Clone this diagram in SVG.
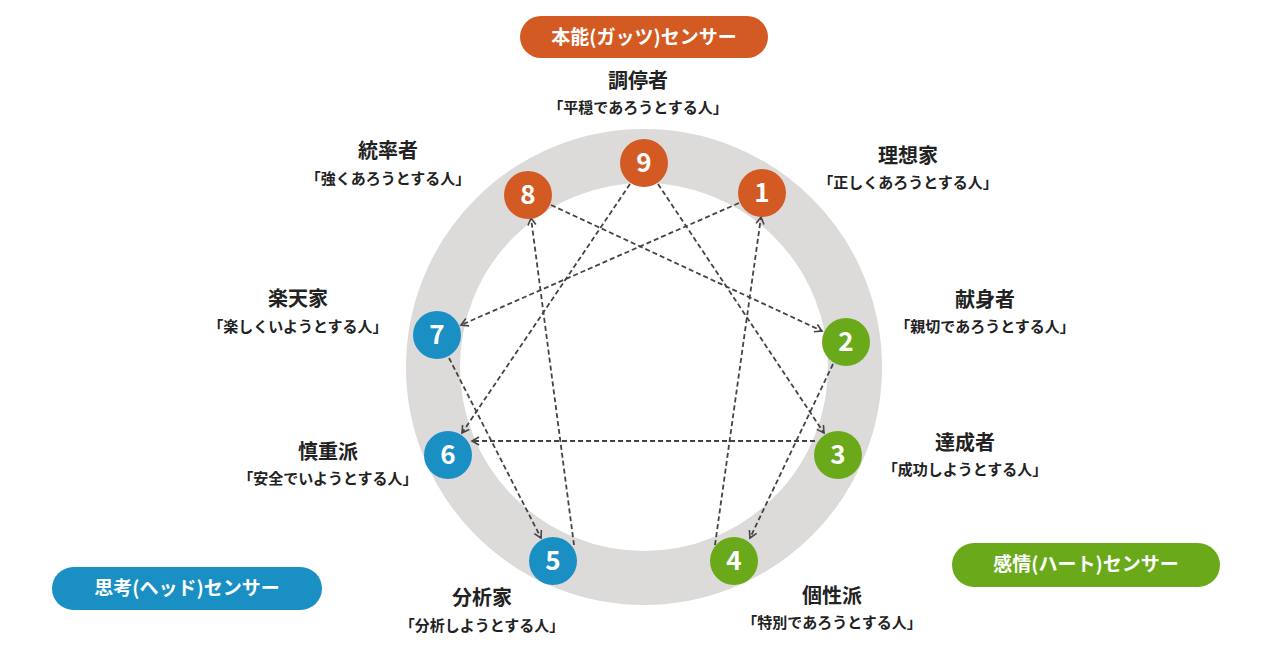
<svg xmlns="http://www.w3.org/2000/svg" width="1280" height="670" viewBox="0 0 1280 670">
<style>
text{font-family:"Noto Sans CJK JP","Noto Sans",sans-serif;fill:#222}
.t{font-size:20px;font-weight:700;text-anchor:middle}
.s{font-size:15px;font-weight:700;text-anchor:middle}
.n{font-size:26px;font-weight:700;fill:#fff;text-anchor:middle}
.p{font-size:19px;font-weight:700;fill:#fff;text-anchor:middle}
.o{fill:#d35a22}.b{fill:#1a8fc4}.g{fill:#6aaa1a}
.c line{stroke:#444;stroke-width:1.8;stroke-dasharray:5 3;marker-end:url(#a)}
</style>
<defs><marker id="a" markerWidth="10" markerHeight="10" refX="8" refY="5" orient="auto" markerUnits="userSpaceOnUse"><path d="M1,1 L8,5 L1,9" fill="none" stroke="#444" stroke-width="1.6"/></marker></defs>
<rect width="1280" height="670" fill="#fff"/>
<circle cx="644" cy="367" r="211" fill="none" stroke="#dcdbda" stroke-width="54"/>
<g id="sensor-gut"><rect x="520" y="16" width="248" height="42" rx="21" class="o"/><text x="644" y="44" class="p">本能(ガッツ)センサー</text></g>
<g id="sensor-head"><rect x="52" y="567" width="270" height="43" rx="21.5" class="b"/><text x="187" y="595" class="p">思考(ヘッド)センサー</text></g>
<g id="sensor-heart"><rect x="952" y="543" width="268" height="44" rx="22" class="g"/><text x="1086" y="571" class="p">感情(ハート)センサー</text></g>
<g class="c">
<line x1="739" y1="203" x2="461" y2="325"/>
<line x1="551" y1="205" x2="822" y2="331"/>
<line x1="658" y1="184" x2="824" y2="433"/>
<line x1="630" y1="184" x2="462" y2="433"/>
<line x1="815" y1="441" x2="472" y2="441"/>
<line x1="449" y1="358" x2="541" y2="538"/>
<line x1="574" y1="545" x2="531" y2="218"/>
<line x1="833" y1="364" x2="750" y2="538"/>
<line x1="715" y1="545" x2="761" y2="217"/>
</g>
<g id="n9"><circle cx="644" cy="163" r="24" class="o"/><text x="644" y="172" class="n">9</text><text x="638" y="88" class="t">調停者</text><text x="638" y="113" class="s">「平穏であろうとする人」</text></g>
<g id="n1"><circle cx="762" cy="193" r="24" class="o"/><text x="762" y="202" class="n">1</text><text x="908" y="163" class="t">理想家</text><text x="908" y="188" class="s">「正しくあろうとする人」</text></g>
<g id="n8"><circle cx="528" cy="195" r="24" class="o"/><text x="528" y="204" class="n">8</text><text x="388" y="158" class="t">統率者</text><text x="388" y="184" class="s">「強くあろうとする人」</text></g>
<g id="n2"><circle cx="846" cy="342" r="24" class="g"/><text x="846" y="351" class="n">2</text><text x="985" y="307" class="t">献身者</text><text x="985" y="332" class="s">「親切であろうとする人」</text></g>
<g id="n7"><circle cx="437" cy="335" r="24" class="b"/><text x="437" y="344" class="n">7</text><text x="298" y="306" class="t">楽天家</text><text x="298" y="332" class="s">「楽しくいようとする人」</text></g>
<g id="n3"><circle cx="838" cy="455" r="24" class="g"/><text x="838" y="464" class="n">3</text><text x="965" y="450" class="t">達成者</text><text x="965" y="475" class="s">「成功しようとする人」</text></g>
<g id="n6"><circle cx="448" cy="455" r="24" class="b"/><text x="448" y="464" class="n">6</text><text x="328" y="459" class="t">慎重派</text><text x="328" y="484" class="s">「安全でいようとする人」</text></g>
<g id="n4"><circle cx="734" cy="561" r="24" class="g"/><text x="734" y="570" class="n">4</text><text x="832" y="603" class="t">個性派</text><text x="832" y="628" class="s">「特別であろうとする人」</text></g>
<g id="n5"><circle cx="553" cy="561" r="24" class="b"/><text x="553" y="570" class="n">5</text><text x="482" y="605" class="t">分析家</text><text x="482" y="631" class="s">「分析しようとする人」</text></g>
</svg>
